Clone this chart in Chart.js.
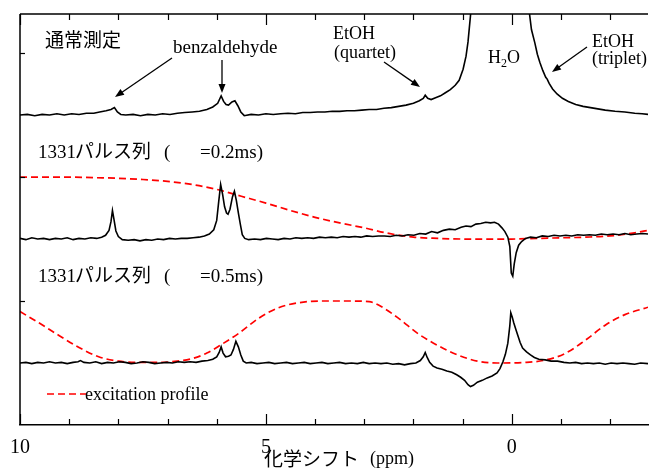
<!DOCTYPE html>
<html>
<head>
<meta charset="utf-8">
<script src="https://cdn.jsdelivr.net/npm/chart.js@4.4.1/dist/chart.umd.min.js"></script>
<style>
  body { margin: 0; background: #fff; }
  #wrap { width: 651px; height: 473px; }
</style>
</head>
<body>
<div id="wrap"><canvas id="nmrChart" width="651" height="473"></canvas></div>
<script>
// spectrum data (ppm, intensity relative to own baseline)
const normalPpm = [10.0, 9.85, 9.7, 9.55, 9.4, 9.25, 9.1, 8.95, 8.8, 8.65, 8.5, 8.38, 8.25, 8.15, 8.08, 8.02, 7.95, 7.85, 7.7, 7.55, 7.4, 7.25, 7.1, 6.95, 6.8, 6.65, 6.5, 6.35, 6.2, 6.08, 5.98, 5.91, 5.86, 5.81, 5.76, 5.69, 5.63, 5.57, 5.51, 5.44, 5.3, 5.15, 5.0, 4.85, 4.7, 4.55, 4.4, 4.25, 4.1, 3.95, 3.8, 3.65, 3.5, 3.35, 3.2, 3.05, 2.9, 2.75, 2.6, 2.45, 2.3, 2.15, 2.0, 1.88, 1.80, 1.76, 1.71, 1.64, 1.55, 1.45, 1.35, 1.25, 1.15, 1.07, 0.99, 0.93, 0.89, 0.84, 0.78, 0.65, 0.3, 0.0, -0.2, -0.3, -0.35, -0.40, -0.47, -0.52, -0.57, -0.63, -0.69, -0.72, -0.76, -0.83, -0.92, -1.03, -1.15, -1.3, -1.45, -1.6, -1.75, -1.9, -2.1, -2.3, -2.5, -2.65, -2.77];
const normalInt = [0.00, 0.01, -0.01, 0.01, 0.00, 0.02, 0.00, 0.02, 0.01, 0.03, 0.03, 0.05, 0.07, 0.09, 0.12, 0.05, 0.01, 0.00, 0.01, -0.01, 0.01, 0.00, 0.02, 0.01, 0.03, 0.04, 0.05, 0.06, 0.09, 0.13, 0.19, 0.31, 0.22, 0.17, 0.16, 0.21, 0.23, 0.15, 0.05, -0.01, 0.01, 0.00, 0.02, 0.01, 0.02, 0.03, 0.02, 0.04, 0.04, 0.05, 0.05, 0.06, 0.06, 0.07, 0.07, 0.08, 0.09, 0.09, 0.11, 0.12, 0.14, 0.16, 0.19, 0.23, 0.27, 0.32, 0.27, 0.25, 0.28, 0.31, 0.36, 0.41, 0.48, 0.56, 0.74, 0.95, 1.18, 1.6, 2.2, 3.0, 3.8, 4.0, 3.4, 2.3, 1.7, 1.38, 1.16, 0.98, 0.85, 0.72, 0.61, 0.58, 0.51, 0.42, 0.34, 0.27, 0.22, 0.17, 0.14, 0.12, 0.10, 0.08, 0.06, 0.05, 0.03, 0.02, 0.01];

const pulse02Ppm = [10.0, 9.88, 9.76, 9.64, 9.52, 9.4, 9.28, 9.16, 9.04, 8.92, 8.8, 8.68, 8.56, 8.44, 8.34, 8.26, 8.19, 8.15, 8.12, 8.09, 8.05, 8.0, 7.92, 7.8, 7.68, 7.56, 7.44, 7.32, 7.2, 7.08, 6.96, 6.84, 6.72, 6.6, 6.48, 6.36, 6.25, 6.15, 6.06, 6.0, 5.96, 5.92, 5.88, 5.84, 5.80, 5.77, 5.73, 5.68, 5.64, 5.60, 5.56, 5.52, 5.48, 5.43, 5.35, 5.23, 5.11, 4.99, 4.87, 4.75, 4.63, 4.51, 4.39, 4.27, 4.15, 4.03, 3.91, 3.79, 3.67, 3.55, 3.43, 3.31, 3.19, 3.07, 2.95, 2.83, 2.71, 2.59, 2.47, 2.35, 2.23, 2.11, 1.99, 1.87, 1.75, 1.63, 1.51, 1.39, 1.27, 1.15, 1.03, 0.93, 0.83, 0.73, 0.63, 0.53, 0.43, 0.35, 0.27, 0.2, 0.14, 0.08, 0.04, 0.01, -0.02, -0.05, -0.09, -0.14, -0.2, -0.28, -0.38, -0.5, -0.62, -0.74, -0.86, -0.98, -1.1, -1.22, -1.34, -1.46, -1.58, -1.7, -1.82, -1.94, -2.06, -2.18, -2.3, -2.42, -2.54, -2.66, -2.77];
const pulse02Int = [0.01, -0.01, 0.02, 0.00, 0.01, -0.01, 0.01, 0.00, 0.02, -0.01, 0.01, 0.00, 0.02, 0.01, 0.03, 0.06, 0.14, 0.28, 0.46, 0.32, 0.13, 0.04, -0.01, -0.02, -0.01, -0.03, -0.01, -0.02, 0.00, -0.01, 0.01, 0.00, 0.01, 0.01, 0.02, 0.03, 0.05, 0.08, 0.15, 0.30, 0.60, 0.88, 0.72, 0.52, 0.42, 0.40, 0.48, 0.68, 0.77, 0.62, 0.42, 0.24, 0.07, 0.01, -0.01, 0.00, -0.01, 0.01, 0.00, -0.01, 0.01, 0.00, 0.02, 0.01, 0.02, 0.01, 0.03, 0.02, 0.03, 0.02, 0.04, 0.03, 0.04, 0.03, 0.05, 0.04, 0.05, 0.05, 0.04, 0.06, 0.05, 0.07, 0.06, 0.09, 0.08, 0.12, 0.10, 0.14, 0.16, 0.15, 0.19, 0.21, 0.20, 0.24, 0.25, 0.27, 0.26, 0.27, 0.24, 0.18, 0.12, 0.03, -0.12, -0.55, -0.60, -0.40, -0.22, -0.10, -0.04, 0.01, 0.03, 0.02, 0.05, 0.04, 0.06, 0.05, 0.06, 0.05, 0.07, 0.06, 0.07, 0.06, 0.08, 0.07, 0.08, 0.07, 0.09, 0.07, 0.08, 0.09, 0.08];

const pulse05Ppm = [10.0, 9.88, 9.76, 9.64, 9.52, 9.4, 9.28, 9.16, 9.04, 8.92, 8.82, 8.77, 8.7, 8.58, 8.46, 8.34, 8.22, 8.1, 7.98, 7.86, 7.74, 7.62, 7.5, 7.38, 7.26, 7.14, 7.02, 6.9, 6.78, 6.66, 6.54, 6.42, 6.3, 6.18, 6.08, 6.0, 5.95, 5.91, 5.87, 5.82, 5.76, 5.71, 5.66, 5.61, 5.56, 5.51, 5.46, 5.40, 5.3, 5.18, 5.06, 4.94, 4.82, 4.7, 4.58, 4.46, 4.34, 4.22, 4.1, 3.98, 3.86, 3.74, 3.62, 3.5, 3.38, 3.26, 3.14, 3.02, 2.9, 2.78, 2.66, 2.54, 2.42, 2.3, 2.18, 2.06, 1.95, 1.86, 1.80, 1.76, 1.72, 1.67, 1.60, 1.52, 1.42, 1.32, 1.22, 1.12, 1.04, 0.96, 0.89, 0.84, 0.78, 0.70, 0.60, 0.50, 0.40, 0.30, 0.24, 0.18, 0.13, 0.08, 0.04, 0.02, -0.01, -0.04, -0.08, -0.12, -0.17, -0.22, -0.30, -0.38, -0.46, -0.55, -0.68, -0.8, -0.93, -1.06, -1.18, -1.3, -1.42, -1.54, -1.66, -1.78, -1.9, -2.02, -2.14, -2.26, -2.38, -2.5, -2.62, -2.77];
const pulse05Int = [0.00, 0.01, -0.01, 0.01, 0.00, 0.02, 0.00, 0.01, -0.01, 0.01, 0.02, 0.04, 0.01, 0.00, 0.02, -0.01, 0.01, 0.00, 0.02, 0.01, -0.01, 0.00, 0.02, 0.01, -0.01, 0.00, 0.01, 0.00, 0.02, 0.01, 0.02, 0.01, 0.03, 0.04, 0.06, 0.10, 0.17, 0.26, 0.16, 0.10, 0.11, 0.13, 0.22, 0.35, 0.26, 0.13, 0.03, 0.00, 0.01, -0.01, 0.00, 0.01, -0.01, 0.00, 0.01, -0.01, 0.00, 0.01, -0.01, 0.00, 0.01, -0.01, 0.00, 0.01, -0.01, 0.00, -0.01, 0.01, -0.01, 0.00, -0.01, 0.00, -0.02, -0.01, -0.03, -0.01, 0.00, 0.04, 0.10, 0.17, 0.09, 0.01, -0.05, -0.08, -0.10, -0.13, -0.15, -0.19, -0.23, -0.28, -0.35, -0.38, -0.36, -0.31, -0.28, -0.24, -0.21, -0.16, -0.09, 0.02, 0.14, 0.32, 0.60, 0.81, 0.74, 0.65, 0.55, 0.45, 0.33, 0.24, 0.18, 0.13, 0.09, 0.06, 0.05, 0.03, 0.03, 0.01, 0.00, 0.01, -0.01, 0.00, -0.01, 0.00, -0.02, 0.00, -0.01, 0.00, -0.01, -0.02, 0.00, -0.01];

// excitation profiles (0..1)
const prof02Ppm = [10.0, 9.5, 9.0, 8.5, 8.0, 7.5, 7.0, 6.5, 6.0, 5.5, 5.0, 4.5, 4.0, 3.5, 3.0, 2.5, 2.0, 1.5, 1.0, 0.5, 0.0, -0.5, -1.0, -1.5, -2.0, -2.5, -2.77];
const prof02Val = [1.0, 1.0, 1.0, 0.99, 0.98, 0.96, 0.93, 0.88, 0.80, 0.69, 0.58, 0.46, 0.35, 0.26, 0.18, 0.09, 0.03, 0.01, 0.0, 0.0, 0.0, 0.01, 0.02, 0.03, 0.05, 0.10, 0.14];
const prof05Ppm = [10.0, 9.6, 9.2, 8.8, 8.4, 8.0, 7.6, 7.2, 6.8, 6.5, 6.2, 5.9, 5.55, 5.15, 4.75, 4.35, 3.9, 3.3, 2.9, 2.7, 2.3, 1.9, 1.5, 1.1, 0.7, 0.3, -0.3, -0.7, -1.1, -1.5, -1.9, -2.3, -2.77];
const prof05Val = [0.83, 0.64, 0.44, 0.25, 0.10, 0.03, 0.01, 0.01, 0.03, 0.07, 0.16, 0.30, 0.48, 0.72, 0.89, 0.97, 1.0, 1.0, 0.99, 0.93, 0.72, 0.47, 0.28, 0.13, 0.03, 0.0, 0.01, 0.05, 0.16, 0.37, 0.61, 0.78, 0.90];

const xTickLabels = [10, 5, 0];

// vertical stacking of the three traces
const OFFSET_NORMAL = 5, OFFSET_02 = 3, OFFSET_05 = 1;
const SERIF = '"Liberation Serif", "Times New Roman", serif';
const CJK = '"Noto Sans CJK JP", sans-serif';

function toPoints(xs, ys, off) {
  return xs.map((x, i) => ({ x: x, y: ys[i] + off }));
}

function spectrum(xs, ys, off) {
  return {
    data: toPoints(xs, ys, off),
    borderColor: '#000',
    borderWidth: 1.6,
    pointRadius: 0,
    tension: 0
  };
}

function profile(xs, ys, off) {
  return {
    data: toPoints(xs, ys, off),
    borderColor: '#ff0000',
    borderWidth: 1.7,
    borderDash: [7, 4],
    pointRadius: 0,
    cubicInterpolationMode: 'monotone'
  };
}

function arrow(ctx, x1, y1, x2, y2) {
  const a = Math.atan2(y2 - y1, x2 - x1);
  const len = 9, w = 3.5;
  ctx.beginPath();
  ctx.moveTo(x1, y1);
  ctx.lineTo(x2 - Math.cos(a) * len * 0.8, y2 - Math.sin(a) * len * 0.8);
  ctx.stroke();
  ctx.beginPath();
  ctx.moveTo(x2, y2);
  ctx.lineTo(x2 - Math.cos(a) * len + Math.sin(a) * w, y2 - Math.sin(a) * len - Math.cos(a) * w);
  ctx.lineTo(x2 - Math.cos(a) * len - Math.sin(a) * w, y2 - Math.sin(a) * len + Math.cos(a) * w);
  ctx.closePath();
  ctx.fill();
}

function text(ctx, s, x, y, font, baseline) {
  ctx.font = font;
  ctx.textBaseline = baseline || 'alphabetic';
  ctx.textAlign = 'left';
  ctx.fillText(s, x, y);
}

// frame, inward ticks and annotations
const framePlugin = {
  id: 'frame',
  afterDatasetsDraw(chart) {
    const ctx = chart.ctx;
    const area = chart.chartArea;
    const xs = chart.scales.x, ys = chart.scales.y;
    ctx.save();
    ctx.strokeStyle = '#000';
    ctx.fillStyle = '#000';
    ctx.lineWidth = 1.5;
    ctx.beginPath();
    ctx.moveTo(area.left, area.top);
    ctx.lineTo(area.right, area.top);
    ctx.moveTo(area.left, area.top);
    ctx.lineTo(area.left, area.bottom);
    ctx.stroke();

    ctx.lineWidth = 1.2;
    for (let v = -2; v <= 10; v++) {
      const px = Math.round(xs.getPixelForValue(v)) + 0.5;
      const len = v % 5 === 0 ? 11 : 6;
      ctx.beginPath();
      ctx.moveTo(px, area.top);
      ctx.lineTo(px, area.top + len);
      ctx.moveTo(px, area.bottom);
      ctx.lineTo(px, area.bottom - len);
      ctx.stroke();
    }
    [2, 4, 6].forEach(v => {
      const py = Math.round(ys.getPixelForValue(v)) + 0.5;
      ctx.beginPath();
      ctx.moveTo(area.left, py);
      ctx.lineTo(area.left + 5, py);
      ctx.stroke();
    });

    // labels
    text(ctx, '通常測定', 45, 40, '19px ' + CJK, 'middle');
    text(ctx, 'benzaldehyde', 173, 53, '19px ' + SERIF);
    text(ctx, 'EtOH', 333, 39, '18px ' + SERIF);
    text(ctx, '(quartet)', 334, 58, '18px ' + SERIF);
    text(ctx, 'H', 488, 63, '18px ' + SERIF);
    text(ctx, '2', 501, 67, '12px ' + SERIF);
    text(ctx, 'O', 507, 63, '18px ' + SERIF);
    text(ctx, 'EtOH', 592, 47, '18px ' + SERIF);
    text(ctx, '(triplet)', 592, 64, '18px ' + SERIF);

    [[158, '=0.2ms)'], [282, '=0.5ms)']].forEach(([y, s]) => {
      text(ctx, '1331', 38, y, '19px ' + SERIF);
      text(ctx, 'パルス列', 75, y, '19px ' + CJK);
      text(ctx, '(', 164, y, '19px ' + SERIF);
      text(ctx, s, 200, y, '19px ' + SERIF);
    });

    ctx.lineWidth = 1.3;
    arrow(ctx, 172, 58, 115, 97);
    arrow(ctx, 222, 60, 222, 93);
    arrow(ctx, 384, 62, 420, 87);
    arrow(ctx, 587, 47, 552, 72);

    // legend
    ctx.strokeStyle = '#ff0000';
    ctx.lineWidth = 1.7;
    ctx.setLineDash([7, 4]);
    ctx.beginPath();
    ctx.moveTo(47, 394);
    ctx.lineTo(86, 394);
    ctx.stroke();
    ctx.setLineDash([]);
    ctx.fillStyle = '#000';
    text(ctx, 'excitation profile', 85, 400, '18px ' + SERIF);

    // axis title
    text(ctx, '化学シフト', 264, 459, '19px ' + CJK, 'middle');
    text(ctx, '(ppm)', 370, 464, '18px ' + SERIF);
    ctx.restore();
  }
};

new Chart(document.getElementById('nmrChart'), {
  type: 'line',
  data: {
    datasets: [
      spectrum(normalPpm, normalInt, OFFSET_NORMAL),
      spectrum(pulse02Ppm, pulse02Int, OFFSET_02),
      spectrum(pulse05Ppm, pulse05Int, OFFSET_05),
      profile(prof02Ppm, prof02Val, OFFSET_02),
      profile(prof05Ppm, prof05Val, OFFSET_05)
    ]
  },
  options: {
    responsive: false,
    animation: false,
    layout: { padding: { left: 20, top: 14, right: 0, bottom: 0 } },
    plugins: { legend: { display: false }, tooltip: { enabled: false } },
    scales: {
      x: {
        type: 'linear',
        reverse: true,
        min: -2.77,
        max: 10,
        grid: { display: false },
        border: { display: true, color: '#000', width: 1.5 },
        ticks: {
          stepSize: 5,
          autoSkip: false,
          maxRotation: 0,
          padding: 3,
          color: '#000',
          font: { family: SERIF, size: 20 },
          callback: v => xTickLabels.includes(v) ? String(v) : ''
        },
        afterFit: scale => { scale.height = 48; }
      },
      y: {
        display: false,
        min: 0,
        max: 6.63
      }
    }
  },
  plugins: [framePlugin]
});
</script>
</body>
</html>
